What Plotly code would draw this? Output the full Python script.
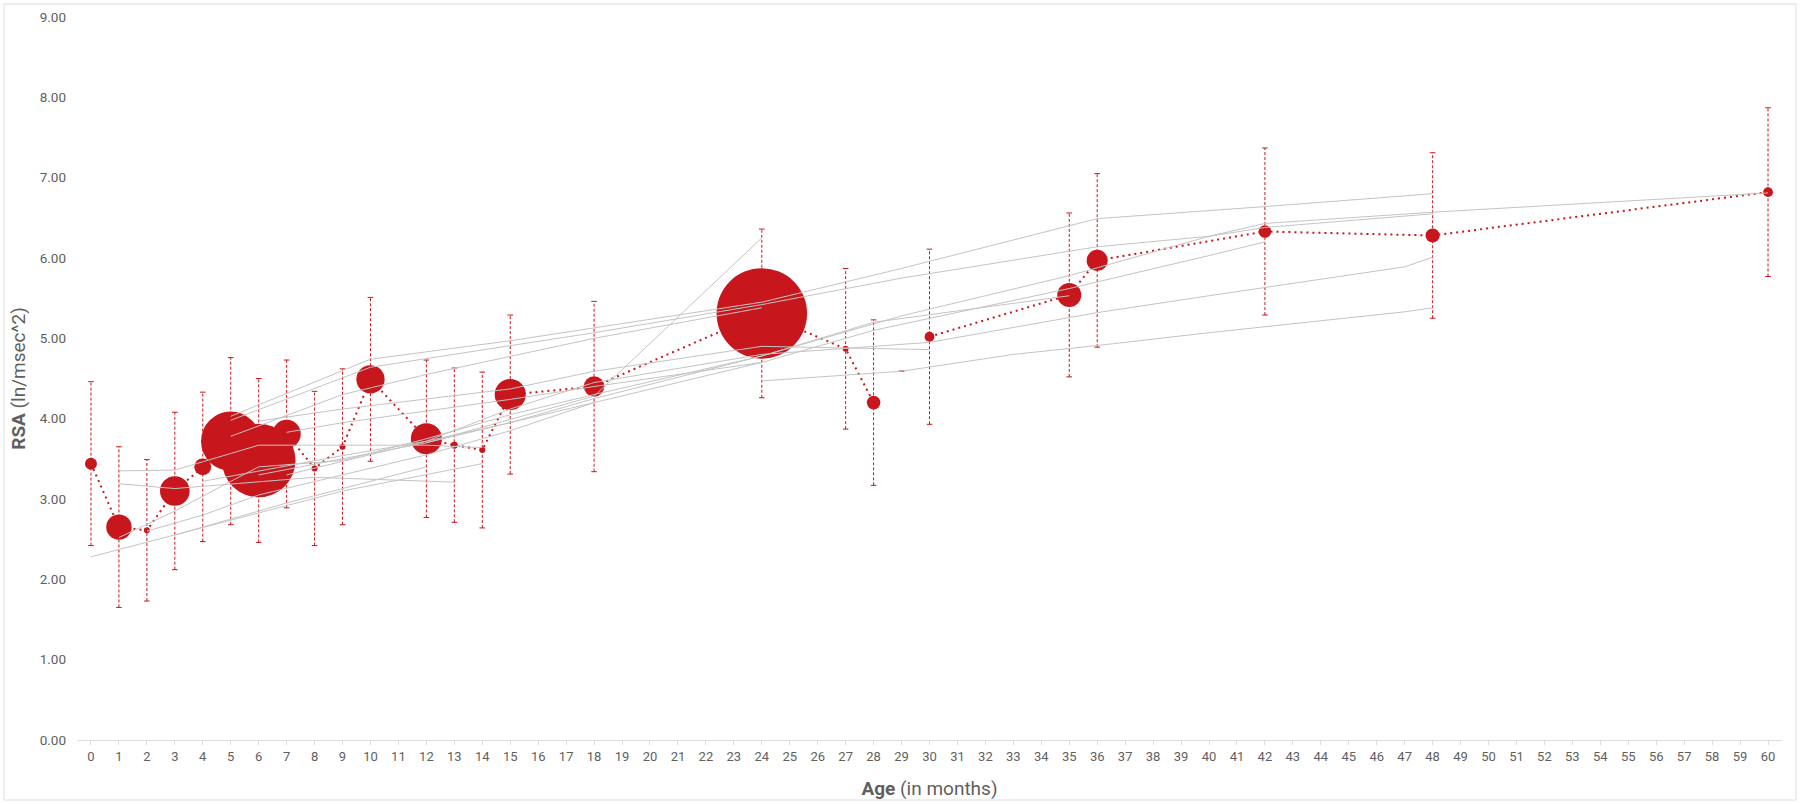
import plotly.graph_objects as go

# ---- pooled means (red) ----
ages = [0, 1, 2, 3, 4, 5, 6, 7, 8, 9, 10, 12, 13, 14, 15, 18, 24, 27, 28, 30, 35, 36, 42, 48, 60]
means = [3.44, 2.65, 2.61, 3.10, 3.40, 3.72, 3.48, 3.81, 3.38, 3.65, 4.49, 3.75, 3.67, 3.61,
         4.30, 4.40, 5.31, 4.87, 4.20, 5.02, 5.54, 5.97, 6.33, 6.28, 6.82]
sds = [1.02, 1.00, 0.88, 0.98, 0.93, 1.04, 1.02, 0.92, 0.96, 0.97, 1.02, 0.98, 0.96, 0.97,
       0.99, 1.06, 1.05, 1.00, 1.03, 1.09, 1.02, 1.08, 1.04, 1.03, 1.05]
n_subjects = [18, 81, 4, 110, 36, 441, 676, 100, 4, 4, 100, 121, 6, 4,
              121, 52, 1024, 4, 23, 12, 72, 56, 20, 25, 12]
lone_age = [29]
lone_mean = [4.59]

# ---- individual study trajectories (grey) ----
studies = [
    ([5, 10, 15, 18, 24, 29, 36, 42, 48], [4.03, 4.74, 4.97, 5.13, 5.45, 5.87, 6.49, 6.64, 6.80]),
    ([5, 10, 18, 24, 29, 36, 40, 42, 48, 60], [3.98, 4.64, 5.07, 5.42, 5.75, 6.14, 6.27, 6.43, 6.57, 6.81]),
    ([5, 9, 12, 18, 24], [3.78, 4.30, 4.55, 5.00, 5.38]),
    ([1, 3, 6, 12, 14], [3.35, 3.36, 3.67, 3.67, 3.64]),
    ([1, 3, 8, 13], [3.19, 3.13, 3.27, 3.21]),
    ([0, 9, 14], [2.28, 3.10, 3.44]),
    ([12, 18, 24], [3.70, 4.28, 6.25]),
    ([24, 29, 33, 36, 40, 47, 48], [4.47, 4.59, 4.80, 4.91, 5.07, 5.33, 5.38]),
    ([4, 9, 12, 15, 18, 24, 30, 36, 40, 47, 48], [3.22, 3.54, 3.72, 4.12, 4.45, 4.80, 4.95, 5.32, 5.53, 5.89, 6.01]),
    ([7, 12, 15, 18, 24, 29, 35, 40, 42, 48], [3.30, 3.72, 3.95, 4.25, 4.78, 5.28, 5.78, 6.27, 6.38, 6.55]),
    ([6, 12, 18, 24, 28, 35, 40, 42], [3.30, 3.70, 4.20, 4.70, 5.10, 5.62, 6.03, 6.20]),
    ([1, 3, 5, 6, 9, 12, 15, 18, 24, 28, 35], [2.52, 2.85, 3.22, 3.40, 3.48, 3.75, 4.05, 4.30, 4.78, 5.20, 5.53]),
    ([6, 9, 15, 18, 24, 30], [3.97, 4.12, 4.37, 4.59, 4.90, 4.86]),
    ([7, 9, 15, 18, 24], [3.83, 3.95, 4.24, 4.40, 4.70]),
    ([2, 4, 6, 9, 12, 15, 18], [2.60, 2.80, 3.05, 3.30, 3.55, 3.85, 4.20]),
    ([3, 5, 7, 12], [2.55, 2.75, 2.95, 3.40]),
]

RED = "#C8161D"
GREY = "#C4C4C4"
TXT = "#5F5F5F"

fig = go.Figure()

# error bars (dashed) built from the data
ex, ey = [], []
cx, cy = [], []
for a, m, s in zip(ages, means, sds):
    ex += [a, a, None]
    ey += [m - s, m + s, None]
    cx += [a, a]
    cy += [m - s, m + s]
fig.add_trace(go.Scatter(x=ex, y=ey, mode="lines", line=dict(color=RED, width=1, dash="3px,2px"),
                         hoverinfo="skip", showlegend=False))
fig.add_trace(go.Scatter(x=cx, y=cy, mode="markers",
                         marker=dict(symbol="line-ew", size=4, line=dict(color=RED, width=1)),
                         hoverinfo="skip", showlegend=False))

# dotted connecting line (gap around 29)
lx, ly = [], []
for a, m in zip(ages, means):
    if a == 30:
        lx.append(None)
        ly.append(None)
    lx.append(a)
    ly.append(m)
fig.add_trace(go.Scatter(x=lx, y=ly, mode="lines", line=dict(color=RED, width=2, dash="2px,4px"),
                         connectgaps=False, hoverinfo="skip", showlegend=False))

# bubbles
fig.add_trace(go.Scatter(x=ages, y=means, mode="markers",
                         marker=dict(color=RED, opacity=1, size=n_subjects, sizemode="area",
                                     sizeref=0.25, sizemin=3, line=dict(width=0)),
                         showlegend=False))
fig.add_trace(go.Scatter(x=lone_age, y=lone_mean, mode="markers",
                         marker=dict(symbol="line-ew", size=4, line=dict(color=RED, width=1.5)),
                         showlegend=False))

# grey study lines on top
for xs, ys in studies:
    fig.add_trace(go.Scatter(x=xs, y=ys, mode="lines", line=dict(color=GREY, width=1),
                             hoverinfo="skip", showlegend=False))

L, R, T, B = 77, 18, 17, 64
W, H = 1800, 804
pw, ph = W - L - R, H - T - B
fig.add_shape(type="rect", xref="paper", yref="paper",
              x0=(4 - L) / pw, x1=(W - 4 - L) / pw,
              y0=-(B - 4) / ph, y1=1 + (T - 4) / ph,
              line=dict(color="#DDDDDD", width=1), fillcolor="rgba(0,0,0,0)", layer="below")

fig.update_layout(
    width=W, height=H,
    margin=dict(l=L, r=R, t=T, b=B),
    paper_bgcolor="white", plot_bgcolor="white",
    font=dict(family="Roboto, Arial, sans-serif", color=TXT),
    xaxis=dict(range=[-0.5, 60.5], tickmode="array", tickvals=list(range(0, 61)),
               ticktext=[str(i) for i in range(0, 61)], automargin=False,
               showgrid=False, zeroline=False, showline=True, linecolor="#DDDDDD", linewidth=1,
               ticks="outside", ticklen=4, tickcolor="#DDDDDD",
               tickfont=dict(size=13, color=TXT),
               title=dict(text="<b>Age</b> (in months)", font=dict(size=19, color=TXT), standoff=19)),
    yaxis=dict(range=[0, 9], tickmode="array", tickvals=list(range(0, 10)),
               ticktext=[f"{v:.2f}" for v in range(0, 10)], automargin=False,
               showgrid=False, zeroline=False, showline=False, ticks="",
               tickfont=dict(size=13.5, color=TXT), ticklabelstandoff=10,
               title=dict(text="<b>RSA</b> (ln/msec^2)", font=dict(size=19, color=TXT), standoff=9)),
)

fig.write_html("out.html", config={"displayModeBar": False},
               post_script="document.body.style.margin='0';")
